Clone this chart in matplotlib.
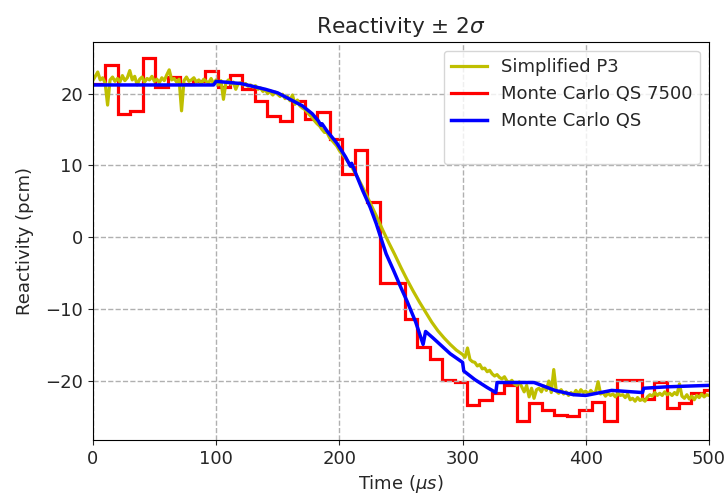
import numpy as np
import matplotlib
matplotlib.use('Agg')
import matplotlib.pyplot as plt
from matplotlib.lines import Line2D

# Simplified P3 (noisy before/after the transient)
p3_t = [0, 2, 4, 6, 8, 10, 12, 14, 16, 18, 20, 22, 24, 26, 28, 30, 32, 34, 36, 38,
        40, 42, 44, 46, 48, 50, 52, 54, 56, 58, 60, 62, 64, 66, 68, 70, 72, 74, 76, 78,
        80, 82, 84, 86, 88, 90, 92, 94, 96, 98, 100, 102, 104, 106, 108, 110, 112, 114, 116, 118,
        120, 122, 124, 126, 128, 130, 132, 134, 136, 138, 140, 142, 144, 146, 148, 150, 152, 154, 156, 158,
        160, 162, 164, 166, 168, 170, 172, 174, 176, 178, 180, 182, 184, 186, 188, 190, 192, 195, 198,
        200, 205, 210, 215, 220, 225, 230, 235, 240, 245, 250, 255, 260, 265, 270, 275, 280, 285, 290, 295,
        300, 302, 304, 306, 308, 310, 312, 314, 316, 318, 320, 322, 324, 326, 328, 330, 332, 334, 336, 338,
        340, 342, 344, 346, 348, 350, 352, 354, 356, 358, 360, 362, 364, 366, 368, 370, 372, 374, 376, 378,
        380, 382, 384, 386, 388, 390, 392, 394, 396, 398, 400, 402, 404, 406, 408, 410, 412, 414, 416, 418,
        420, 422, 424, 426, 428, 430, 432, 434, 436, 438, 440, 442, 444, 446, 448, 450, 452, 454, 456, 458,
        460, 462, 464, 466, 468, 470, 472, 474, 476, 478, 480, 482, 484, 486, 488, 490, 492, 494, 496, 498, 500]
p3_v = [21.8, 22.4, 23.0, 21.9, 22.2, 21.5, 18.4, 21.9, 22.3, 21.7, 22.1, 21.6, 22.5, 21.8, 22.2, 23.2, 21.9, 22.4, 21.2, 22.0,
        22.3, 21.6, 22.1, 21.9, 22.4, 21.7, 22.0, 21.5, 22.2, 21.8, 22.6, 23.3, 21.9, 22.1, 21.6, 22.0, 17.6, 21.8, 22.3, 21.7,
        21.9, 22.2, 21.6, 21.9, 21.4, 22.0, 21.7, 21.5, 22.1, 21.3, 21.9, 21.2, 21.8, 19.2, 21.5, 21.9, 21.3, 21.6, 20.6, 21.4,
        21.5, 21.2, 21.4, 21.0, 21.2, 20.9, 21.1, 20.6, 20.8, 20.3, 20.5, 20.0, 20.4, 19.8, 20.2, 19.9, 19.6, 19.9, 19.3, 19.6,
        19.0, 19.8, 18.5, 19.1, 18.3, 18.0, 17.8, 17.4, 17.0, 16.7, 16.2, 15.8, 15.5, 15.0, 14.6, 14.6, 13.9, 13.3, 12.7,
        12.1, 11.0, 9.8, 8.3, 6.6, 4.8, 3.0, 1.1, -0.7, -2.4, -4.2, -5.9, -7.5, -9.0, -10.4, -11.8, -13.0, -14.0, -14.9, -15.7,
        -16.3, -16.7, -15.4, -17.0, -17.3, -17.4, -17.9, -17.7, -18.3, -18.2, -18.7, -18.5, -19.0, -19.3, -19.1, -19.5, -19.7, -19.4, -20.0, -20.2,
        -19.9, -20.4, -20.6, -20.1, -20.8, -21.5, -20.6, -22.2, -21.0, -22.4, -21.2, -21.0, -21.5, -20.7, -21.3, -20.0, -21.6, -18.4, -21.4, -21.7,
        -21.2, -21.8, -21.5, -22.0, -21.6, -21.9, -21.3, -21.8, -21.2, -21.6, -21.4, -21.9, -21.3, -21.7, -21.5, -20.1, -21.8, -21.6, -22.1, -21.7,
        -22.0, -21.8, -22.2, -21.7, -22.0, -21.9, -22.3, -21.8, -22.6, -22.4, -22.8, -22.3, -22.7, -22.5, -22.8, -22.2, -21.9, -22.1, -21.6, -22.0,
        -21.7, -22.0, -21.5, -21.9, -21.7, -22.0, -21.6, -21.9, -20.4, -22.1, -22.4, -21.9, -22.5, -22.1, -22.6, -22.0, -22.3, -21.8, -22.2, -21.9, -22.0]

# Monte Carlo QS 7500, one value per time bin
mc7500_edges = np.linspace(0, 506, 51)
mc7500_v = [21.4, 24.0, 17.1, 17.6, 25.0, 20.9, 22.3, 21.4, 21.8, 23.2,
            20.9, 22.6, 20.6, 18.9, 16.9, 16.2, 18.9, 16.5, 17.4, 13.7,
            8.8, 12.2, 4.9, -6.4, -6.3, -11.3, -15.2, -16.9, -19.8, -20.2,
            -23.3, -22.6, -21.7, -20.6, -25.6, -23.1, -24.0, -24.7, -24.9, -24.0,
            -22.9, -25.6, -19.8, -19.8, -22.5, -20.2, -23.8, -23.1, -21.7, -21.3]

# Monte Carlo QS
mc_t = [0, 98, 100, 120, 130, 140, 150, 160, 170, 178, 183, 185, 186, 190, 198, 205, 209, 210, 214, 219,
        225, 230, 233, 238, 244, 250, 255, 262, 268, 270, 276, 283, 290, 300, 301, 310, 320, 327, 328, 358,
        375, 390, 400, 421, 446, 447, 466, 500]
mc_v = [21.2, 21.2, 21.7, 21.4, 21.0, 20.6, 20.1, 19.2, 18.3, 17.2, 16.2, 15.6, 15.8, 14.8, 13.1, 11.2, 9.9, 10.3, 8.6, 6.5,
        4.2, 1.9, 0.3, -2.3, -4.6, -7.0, -8.9, -11.8, -14.9, -13.1, -14.0, -15.1, -16.2, -17.4, -18.6, -19.8, -20.9, -21.6, -20.2, -20.2,
        -21.3, -21.9, -22.0, -21.3, -21.6, -21.0, -20.8, -20.6]

plt.rcParams['font.size'] = 13
plt.rcParams['text.color'] = '#262626'
plt.rcParams['axes.labelcolor'] = '#262626'
plt.rcParams['xtick.color'] = '#262626'
plt.rcParams['ytick.color'] = '#262626'

fig = plt.figure(figsize=(7.25, 5.04), dpi=100)
ax = fig.add_subplot(111)
fig.subplots_adjust(left=0.128, right=0.978, top=0.917, bottom=0.127)

ax.plot(p3_t, p3_v, color='y', lw=2.3, label='Simplified P3')
ax.stairs(mc7500_v, mc7500_edges, color='r', lw=2.3, baseline=None, label='Monte Carlo QS 7500')
ax.plot(mc_t, mc_v, color='b', lw=2.5, label='Monte Carlo QS')

ax.set_xlim(0, 500)
ax.set_ylim(-28.2, 27.2)
ax.grid(True, linestyle='--', color='#b0b0b0', lw=1)
ax.set_title(r'Reactivity $\pm$ 2$\sigma$')
ax.set_xlabel(r'Time ($\mu s$)')
ax.set_ylabel('Reactivity (pcm)', labelpad=8)

handles, labels = ax.get_legend_handles_labels()
handles.append(Line2D([], [], color='none'))
labels.append(' ')
ax.legend(handles, labels, loc='upper right')

fig.savefig('out.png', dpi=100)
